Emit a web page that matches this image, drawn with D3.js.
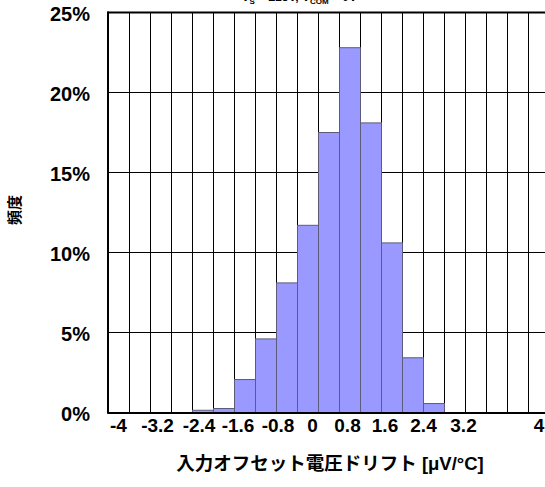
<!DOCTYPE html>
<html>
<head>
<meta charset="utf-8">
<script src="https://cdn.jsdelivr.net/npm/d3@7/dist/d3.min.js"></script>
<style>
  html, body { margin: 0; padding: 0; background: #fff; overflow: hidden; }
  svg { display: block; }
  text { font-family: "Liberation Sans", Arial, sans-serif; font-weight: bold; fill: #000; }
  .cjk { font-family: "Liberation Sans", "Noto Sans CJK JP", sans-serif; font-weight: 700; }
</style>
</head>
<body>
<svg id="chart" width="545" height="487"></svg>
<script>
// ---- data ----
const binStart = -4;
const binWidth = 0.4;
const frequency = [0, 0, 0, 0, 0.14, 0.25, 2.06, 4.6, 8.1, 11.7, 17.5, 22.8, 18.1, 10.6, 3.42, 0.56, 0, 0, 0, 0, 0];
const xTickLabels = ["-4", "-3.2", "-2.4", "-1.6", "-0.8", "0", "0.8", "1.6", "2.4", "3.2", "4"];
const yTicks = [0, 5, 10, 15, 20, 25];
const xTitle = "入力オフセット電圧ドリフト [μV/°C]";
const yTitle = "頻度";

// ---- layout ----
const plotLeft = 108.5, binPx = 21, plotTop = 12.5, plotBottom = 412.5;
const nBins = frequency.length;
const xMax = binStart + binWidth * nBins;
const x = d3.scaleLinear().domain([binStart, xMax]).range([plotLeft, plotLeft + binPx * nBins]);
const y = d3.scaleLinear().domain([0, 25]).range([plotBottom, plotTop]);

const svg = d3.select("#chart");

// top condition text (mostly cut off at the top edge, as in the original)
const cond = svg.append("text").attr("y", 0.5).attr("font-size", 12);
cond.append("tspan").text("V");
cond.append("tspan").attr("font-size", 8).attr("dy", 3).text("S");
cond.append("tspan").attr("dy", -3).text(" = ±15V, V");
cond.append("tspan").attr("font-size", 8).attr("dy", 3).text("COM");
cond.append("tspan").attr("dy", -3).text(" = 0V");
try {
  const node = cond.node();
  const comStart = node.getStartPositionOfChar(node.textContent.indexOf("COM")).x;
  cond.attr("x", 310 - comStart);
} catch (e) { cond.attr("x", 250); }

// horizontal gridlines
svg.append("g").selectAll("line")
  .data(yTicks.filter(d => d > 0 && d < 25))
  .join("line")
  .attr("x1", x(binStart)).attr("x2", x(xMax))
  .attr("y1", d => y(d)).attr("y2", d => y(d))
  .attr("stroke", "#000").attr("stroke-width", 1);

// vertical gridlines at bin edges
svg.append("g").selectAll("line")
  .data(d3.range(1, nBins).map(i => binStart + i * binWidth))
  .join("line")
  .attr("x1", d => x(d)).attr("x2", d => x(d))
  .attr("y1", y(25)).attr("y2", y(0))
  .attr("stroke", "#000").attr("stroke-width", 1);

// bars
svg.append("g").selectAll("rect")
  .data(frequency.map((v, i) => ({ x0: binStart + i * binWidth, x1: binStart + (i + 1) * binWidth, v })).filter(d => d.v > 0))
  .join("rect")
  .attr("x", d => x(d.x0)).attr("width", d => x(d.x1) - x(d.x0))
  .attr("y", d => y(d.v)).attr("height", d => y(0) - y(d.v))
  .attr("fill", "#9999ff").attr("stroke", "#5c5c7a").attr("stroke-width", 1);

// frame: top, left, bottom
svg.append("line").attr("x1", x(binStart) - 1).attr("x2", x(xMax)).attr("y1", y(25)).attr("y2", y(25))
  .attr("stroke", "#000").attr("stroke-width", 2);
svg.append("line").attr("x1", x(binStart) - 0.5).attr("x2", x(binStart) - 0.5).attr("y1", y(25) - 1).attr("y2", y(0) + 1)
  .attr("stroke", "#000").attr("stroke-width", 2);
svg.append("line").attr("x1", x(binStart) - 1).attr("x2", x(xMax)).attr("y1", y(0) + 0.5).attr("y2", y(0) + 0.5)
  .attr("stroke", "#000").attr("stroke-width", 2);

// y tick labels
svg.append("g").selectAll("text")
  .data(yTicks)
  .join("text")
  .attr("x", 90).attr("y", d => y(d) + 8)
  .attr("text-anchor", "end").attr("font-size", 20)
  .text(d => d + "%");

// x tick labels (placed as in the original text line)
const labelCenters = [118.5, 157.5, 199, 238, 278, 312.5, 347.5, 385, 423.5, 463.5, 539];
svg.append("g").selectAll("text")
  .data(xTickLabels)
  .join("text")
  .attr("x", (d, i) => labelCenters[i]).attr("y", 432)
  .attr("text-anchor", "middle").attr("font-size", 19)
  .text(d => d);

// x title
svg.append("text").attr("class", "cjk")
  .attr("x", 330).attr("y", 470)
  .attr("text-anchor", "middle").attr("font-size", 18.5)
  .text(xTitle);

// y title
svg.append("text").attr("class", "cjk")
  .attr("transform", "translate(20,210) rotate(-90)")
  .attr("text-anchor", "middle").attr("font-size", 15)
  .text(yTitle);
</script>
</body>
</html>
